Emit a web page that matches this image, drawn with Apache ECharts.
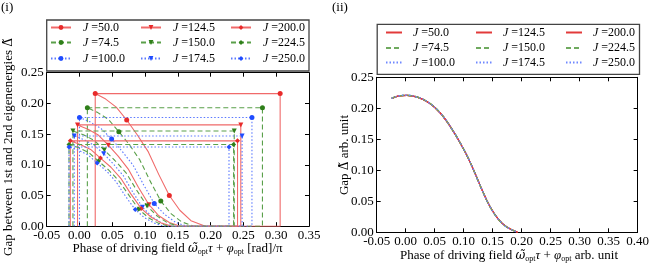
<!DOCTYPE html>
<html><head><meta charset="utf-8">
<script src="https://cdn.jsdelivr.net/npm/echarts@6/dist/echarts.min.js"></script>
<style>html,body{margin:0;padding:0;background:#fff}#c{width:652px;height:263px}</style>
</head><body><div id="c"></div>
<script>
// ---------- data ----------
const J_VALUES = ['50.0', '74.5', '100.0', '124.5', '150.0', '174.5', '200.0', '224.5', '250.0'];

// left panel: decaying part of each trajectory, starting at the upper-left corner (x0, peak)
const CURVE_J50 = [[0.024,0.216],[0.040,0.207],[0.056,0.194],[0.072,0.173],[0.088,0.149],[0.105,0.121],[0.121,0.084],[0.137,0.050],[0.153,0.026],[0.170,0.009],[0.192,0]];
const CURVE_J74 = [[0.012,0.193],[0.028,0.185],[0.044,0.174],[0.060,0.154],[0.076,0.133],[0.092,0.108],[0.108,0.073],[0.124,0.041],[0.140,0.020],[0.156,0.007],[0.174,0]];
const CURVE_J100 = [[0.000,0.177],[0.016,0.170],[0.033,0.159],[0.049,0.142],[0.065,0.122],[0.082,0.099],[0.098,0.067],[0.114,0.037],[0.130,0.019],[0.147,0.006],[0.164,0]];
const CURVE_J124 = [[-0.003,0.165],[0.013,0.158],[0.028,0.149],[0.044,0.132],[0.059,0.114],[0.075,0.092],[0.090,0.063],[0.106,0.035],[0.121,0.017],[0.137,0.006],[0.154,0]];
const CURVE_J150 = [[-0.010,0.155],[0.006,0.149],[0.022,0.140],[0.038,0.124],[0.054,0.107],[0.071,0.087],[0.087,0.059],[0.103,0.033],[0.119,0.016],[0.135,0.005],[0.152,0]];
const CURVE_J174 = [[-0.008,0.147],[0.007,0.141],[0.022,0.132],[0.037,0.118],[0.052,0.101],[0.067,0.082],[0.081,0.056],[0.096,0.031],[0.111,0.015],[0.126,0.005],[0.142,0]];
const CURVE_J200 = [[-0.014,0.139],[0.001,0.133],[0.017,0.125],[0.032,0.111],[0.048,0.096],[0.063,0.078],[0.078,0.053],[0.094,0.029],[0.109,0.015],[0.125,0.005],[0.141,0]];
const CURVE_J224 = [[-0.016,0.133],[-0.001,0.128],[0.014,0.120],[0.029,0.106],[0.044,0.092],[0.060,0.074],[0.075,0.051],[0.090,0.028],[0.105,0.014],[0.120,0.005],[0.136,0]];
const CURVE_J250 = [[-0.016,0.129],[-0.002,0.124],[0.013,0.116],[0.027,0.103],[0.042,0.089],[0.056,0.072],[0.070,0.049],[0.085,0.027],[0.099,0.014],[0.114,0.005],[0.129,0]];
const LEFT_CURVES = [CURVE_J50, CURVE_J74, CURVE_J100, CURVE_J124, CURVE_J150, CURVE_J174, CURVE_J200, CURVE_J224, CURVE_J250];
// right edge (phase) of each trajectory in the left panel
const X1_VALUES = [0.306, 0.279, 0.263, 0.246, 0.236, 0.248, 0.241, 0.235, 0.228];

// right panel: collapsed curve (identical for every J)
const RIGHT_CURVE = [[-0.024,0.216],[-0.012,0.220],[0.002,0.221],[0.020,0.218],[0.040,0.209],[0.060,0.192],[0.080,0.166],[0.100,0.134],[0.115,0.105],[0.130,0.072],[0.145,0.042],[0.160,0.021],[0.175,0.008],[0.193,0.0]];

const LEFT_X_RANGE = [-0.05, 0.35];
const RIGHT_X_RANGE = [-0.05, 0.40];
const Y_RANGE = [0, 0.25];
const TICK_STEP = 0.05;

// ---------- style ----------
const FONT = '"Liberation Serif", "DejaVu Serif", serif';
const MATH_FONT = '"DejaVu Serif", serif';
const LINE_COLORS = ['#f06a6a', '#5aa04a', '#5a78ff'];
const MARK_COLORS = ['#e82a2a', '#2f7f1a', '#1f4cff'];
const RIGHT_COLORS = ['#e23a3a', '#6faa5f', '#6f88ff'];
const LINE_TYPES = ['solid', [5, 3], [1.5, 2]];
const SYMBOLS = ['circle', 'triangle', 'diamond'];
const SYMBOL_ROT = [0, 180, 0];
const MARK_IDX = [1, 4, 8, 13];

function boxPath(curve, x1) {
  const x0 = curve[0][0], peak = curve[0][1];
  return [[x0, 0]].concat(curve, [[x1, 0], [x1, peak], [x0, peak]]);
}

const chart = echarts.init(document.getElementById('c'), null, {renderer: 'canvas'});

function axisPair(grid, range, isX) {
  const base = {
    gridIndex: grid, type: 'value', min: range[0], max: range[1], interval: TICK_STEP,
    axisLine: {onZero: false, lineStyle: {color: '#000', width: 1}},
    axisTick: {inside: true, length: 4, lineStyle: {color: '#000'}},
    splitLine: {show: false},
    axisLabel: {color: '#000', fontFamily: FONT, fontSize: 13, margin: 3, formatter: v => v.toFixed(2)}
  };
  const a = Object.assign({}, base, {position: isX ? 'bottom' : 'left'});
  const b = Object.assign({}, base, {position: isX ? 'top' : 'right', axisLabel: {show: false}});
  return [a, b];
}

const series = [];
const legends = [];
const richLeg = {i: {fontStyle: 'italic', fontFamily: FONT, fontSize: 12, color: '#000'}, n: {fontFamily: FONT, fontSize: 12, color: '#000'}};
J_VALUES.forEach((j, i) => {
  const g = i % 3, col = Math.floor(i / 3);
  series.push({
    name: 'L' + j, type: 'line', xAxisIndex: 0, yAxisIndex: 0,
    data: boxPath(LEFT_CURVES[i], X1_VALUES[i]),
    symbol: SYMBOLS[col], symbolRotate: SYMBOL_ROT[col],
    symbolSize: (v, p) => MARK_IDX.indexOf(p.dataIndex) >= 0 ? 5 : 0,
    showSymbol: true,
    lineStyle: {color: LINE_COLORS[g], width: 1.1, type: LINE_TYPES[g]},
    itemStyle: {color: MARK_COLORS[g]},
    emphasis: {disabled: true}, animation: false, z: 2
  });
  series.push({
    name: 'R' + j, type: 'line', xAxisIndex: 2, yAxisIndex: 2,
    data: RIGHT_CURVE, smooth: 0.4, showSymbol: false, symbol: 'none',
    lineStyle: {color: RIGHT_COLORS[g], width: 1.2, type: LINE_TYPES[g]},
    itemStyle: {color: RIGHT_COLORS[g]},
    emphasis: {disabled: true}, animation: false
  });
  const rowTopL = [21.5, 36.5, 52.5][g];
  const rowTopR = [26.5, 42, 56.5][g];
  legends.push({
    data: ['L' + j], left: 50 + 90 * col, top: rowTopL, padding: 0,
    itemWidth: 20, itemHeight: 6, selectedMode: false,
    formatter: n => '{i|J} {n|=' + n.slice(1) + '}',
    textStyle: {fontFamily: FONT, fontSize: 12, color: '#000', padding: [0, 0, 0, 7], rich: richLeg}
  });
  legends.push({
    data: ['R' + j], left: 385 + 90 * col, top: rowTopR, padding: 0,
    itemWidth: 16, itemHeight: 6, selectedMode: false,
    itemStyle: {opacity: 0, color: 'rgba(0,0,0,0)', borderWidth: 0},
    formatter: n => '{i|J} {n|=' + n.slice(1) + '}',
    textStyle: {fontFamily: FONT, fontSize: 12, color: '#000', padding: [0, 0, 0, 6], rich: richLeg}
  });
});

const richTitle = {
  t: {fontFamily: FONT, fontSize: 13, color: '#000'},
  i: {fontFamily: FONT, fontSize: 13, fontStyle: 'italic', color: '#000'},
  m: {fontFamily: MATH_FONT, fontSize: 12, fontStyle: 'italic', color: '#000'},
  d: {fontFamily: MATH_FONT, fontSize: 12, color: '#000'},
  s: {fontFamily: FONT, fontSize: 8, color: '#000', verticalAlign: 'bottom', padding: [5, 0, 0, 0]}
};

const option = {
  animation: false,
  backgroundColor: '#fff',
  grid: [
    {left: 46.7, top: 72.7, width: 262.3, height: 153.5},
    {left: 376.7, top: 77.3, width: 262.6, height: 155}
  ],
  xAxis: axisPair(0, LEFT_X_RANGE, true).concat(axisPair(1, RIGHT_X_RANGE, true)),
  yAxis: axisPair(0, Y_RANGE, false).concat(axisPair(1, Y_RANGE, false)),
  legend: legends,
  series: series,
  graphic: [
    {type: 'rect', shape: {x: 46.7, y: 20, width: 262.3, height: 51}, style: {fill: '#fff', stroke: '#444', lineWidth: 1.3}, z: -10, silent: true},
    {type: 'rect', shape: {x: 377.2, y: 24.3, width: 262.3, height: 50}, style: {fill: '#fff', stroke: '#444', lineWidth: 1.3}, z: -10, silent: true},
    {type: 'text', style: {x: 1, y: 8, text: '(i)', font: '13px ' + FONT, fill: '#000', verticalAlign: 'middle'}},
    {type: 'text', style: {x: 332, y: 8, text: '(ii)', font: '13px ' + FONT, fill: '#000', verticalAlign: 'middle'}},
    {type: 'text', style: {x: 177.5, y: 249, align: 'center', verticalAlign: 'middle',
      text: '{t|Phase of driving field }{m|ω̃}{s|opt}{i|τ}{t| + }{i|φ}{s|opt}{t| [rad]/π}', rich: richTitle}},
    {type: 'text', style: {x: 509, y: 256, align: 'center', verticalAlign: 'middle',
      text: '{t|Phase of driving field }{m|ω̃}{s|opt}{i|τ}{t| + }{i|φ}{s|opt}{t| arb. unit}', rich: richTitle}},
    {type: 'text', x: 9, y: 147, rotation: Math.PI / 2, style: {x: 0, y: 0, align: 'center', verticalAlign: 'middle',
      text: '{t|Gap between 1st and 2nd eigenenergies }{d|Δ̃}', rich: richTitle}},
    {type: 'text', x: 345, y: 155, rotation: Math.PI / 2, style: {x: 0, y: 0, align: 'center', verticalAlign: 'middle',
      text: '{t|Gap }{d|Δ̃}{t| arb. unit}', rich: richTitle}}
  ]
};
chart.setOption(option);
</script></body></html>
